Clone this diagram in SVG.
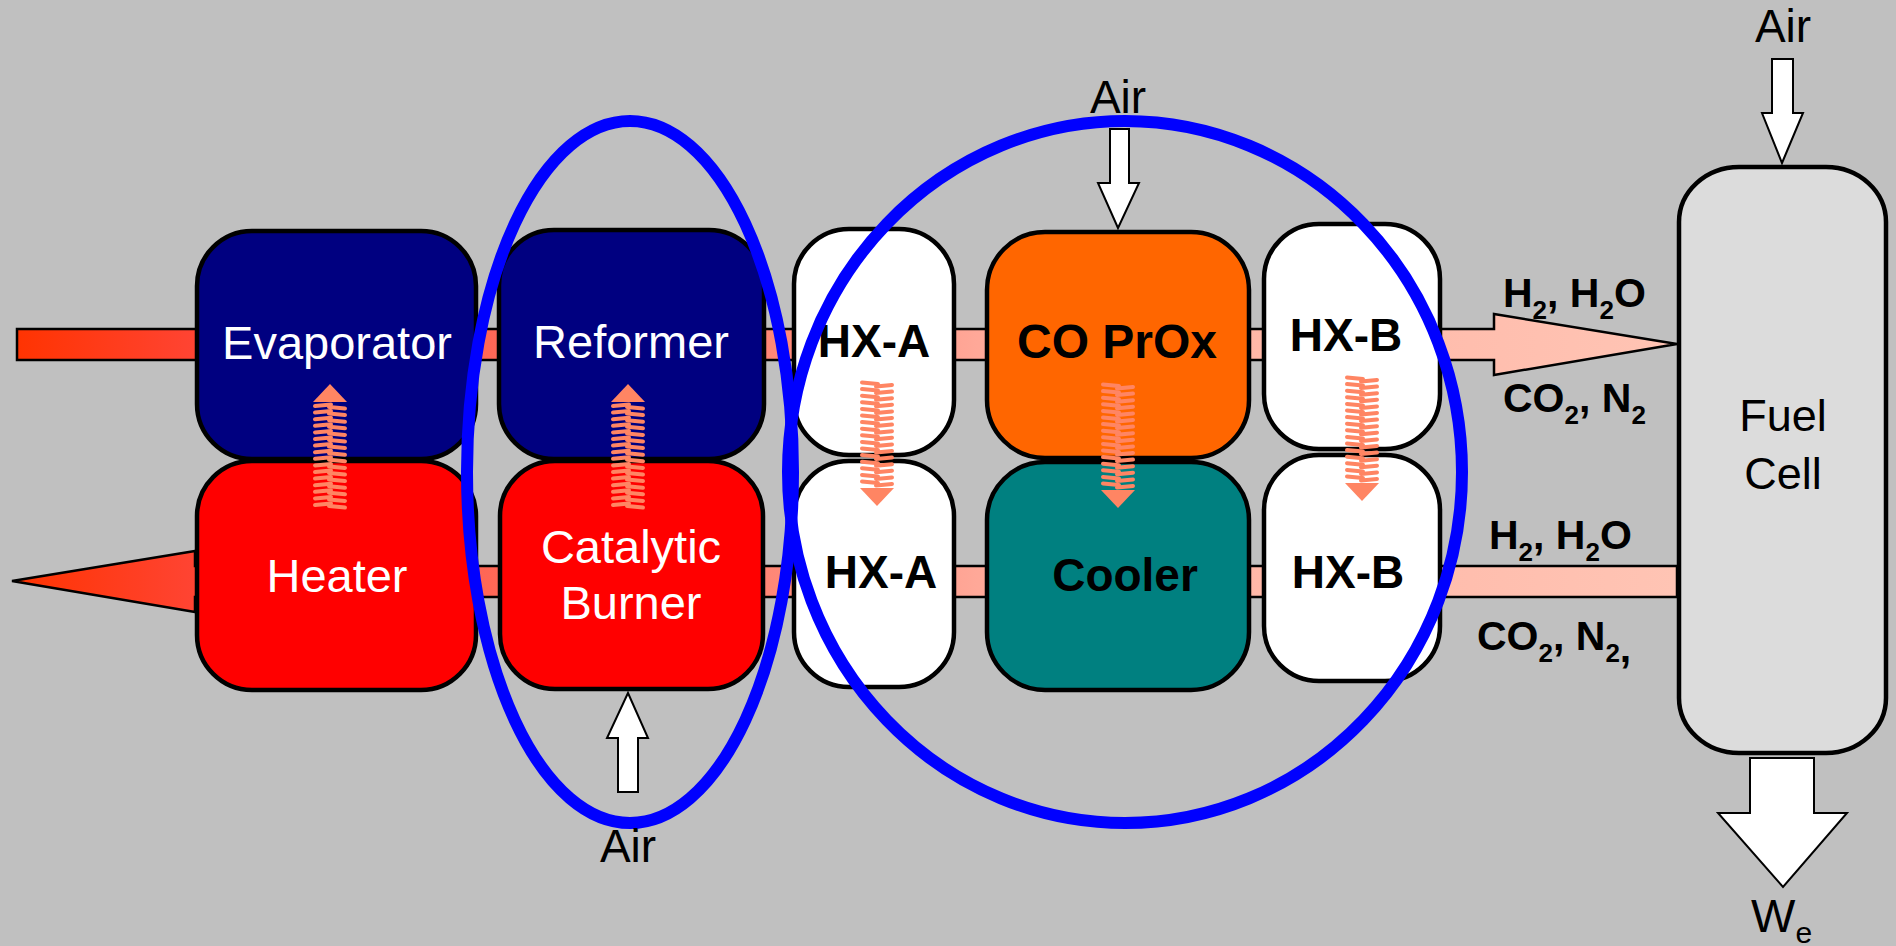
<svg xmlns="http://www.w3.org/2000/svg" width="1896" height="946" viewBox="0 0 1896 946">
<style>
.box{stroke:#000;stroke-width:4.5}
.wl{font-family:"Liberation Sans",Arial,sans-serif;font-size:47px;fill:#fff;text-anchor:middle}
.bl{font-family:"Liberation Sans",Arial,sans-serif;font-size:46px;font-weight:bold;fill:#000;text-anchor:middle}
.nl{font-family:"Liberation Sans",Arial,sans-serif;font-size:46px;fill:#000;text-anchor:middle}
.sl{font-family:"Liberation Sans",Arial,sans-serif;font-size:41px;font-weight:bold;fill:#000}
.air{fill:#fff;stroke:#000;stroke-width:2}
.stream{stroke:#000;stroke-width:2.5}
.ring{fill:none;stroke:#0000FF;stroke-width:12}
.coil{fill:none;stroke:#FF8563;stroke-width:4;stroke-linecap:round}
</style>
<defs>
<linearGradient id="flow" gradientUnits="userSpaceOnUse" x1="12" y1="0" x2="1677" y2="0">
<stop offset="0" stop-color="#FF3300"/>
<stop offset="0.11" stop-color="#FF4433"/>
<stop offset="0.28" stop-color="#FF6655"/>
<stop offset="0.46" stop-color="#FF8877"/>
<stop offset="0.58" stop-color="#FFA898"/>
<stop offset="0.75" stop-color="#FFB8A8"/>
<stop offset="1" stop-color="#FFC4B4"/>
</linearGradient>
<g id="spring">
<polygon points="0,0 17,18 -17,18" fill="#FF8563"/>
<path class="coil" d="M-15,22 l16,-1.5 m-16,8.1 l16,-1.5 m-16,8.1 l16,-1.5 m-16,8.1 l16,-1.5 m-16,8.1 l16,-1.5 m-16,8.1 l16,-1.5 m-16,8.1 l16,-1.5 m-16,8.1 l16,-1.5 m-16,8.1 l16,-1.5 m-16,8.1 l16,-1.5 m-16,8.1 l16,-1.5 m-16,8.1 l16,-1.5 m-16,8.1 l16,-1.5 m-16,8.1 l16,-1.5 m-16,8.1 l16,-1.5 m-16,8.1 l16,-1.5"/>
<path class="coil" d="M-1,23 l16,1.5 m-16,5.1 l16,1.5 m-16,5.1 l16,1.5 m-16,5.1 l16,1.5 m-16,5.1 l16,1.5 m-16,5.1 l16,1.5 m-16,5.1 l16,1.5 m-16,5.1 l16,1.5 m-16,5.1 l16,1.5 m-16,5.1 l16,1.5 m-16,5.1 l16,1.5 m-16,5.1 l16,1.5 m-16,5.1 l16,1.5 m-16,5.1 l16,1.5 m-16,5.1 l16,1.5 m-16,5.1 l16,1.5"/>
</g>
</defs>
<rect x="0" y="0" width="1896" height="946" fill="#C0C0C0"/>

<g id="connectors">
<path class="stream" fill="url(#flow)" d="M17,329 H1494 V314 L1677,344 L1494,375 V360 H17 Z"/>
<path class="stream" fill="url(#flow)" d="M12,581 L195,551 V566 H1677 V597 H195 V612 Z"/>
<path id="air-fc" class="air" d="M1772,59 H1793 V113 H1803 L1782,163 L1762,113 H1772 Z"/>
<path id="air-prox" class="air" d="M1110,129 H1129 V183 H1139 L1118,228 L1098,183 H1110 Z"/>
<path id="air-burner" class="air" d="M618,792 V738 H607 L628,693 L648,738 H638 V792 Z"/>
<path id="we-arrow" class="air" d="M1750,758 H1814 V813 H1847 L1783,887 L1718,813 H1750 Z"/>
</g>

<g id="evaporator"><rect class="box" x="197" y="231" width="279" height="228" rx="55" fill="#000080"/><text class="wl" x="337" y="359">Evaporator</text></g>
<g id="heater"><rect class="box" x="197" y="461" width="279" height="229" rx="55" fill="#FF0000"/><text class="wl" x="337" y="592">Heater</text></g>
<g id="reformer"><rect class="box" x="499" y="230" width="265" height="229" rx="55" fill="#000080"/><text class="wl" x="631" y="358">Reformer</text></g>
<g id="burner"><rect class="box" x="500" y="461" width="263" height="228" rx="55" fill="#FF0000"/><text class="wl" x="631" y="563">Catalytic</text><text class="wl" x="631" y="619">Burner</text></g>
<g id="hxa-top"><rect class="box" x="794" y="229" width="160" height="226" rx="55" fill="#FFFFFF"/><text class="bl" x="874" y="357">HX-A</text></g>
<g id="hxa-bottom"><rect class="box" x="794" y="461" width="160" height="226" rx="55" fill="#FFFFFF"/><text class="bl" x="881" y="588">HX-A</text></g>
<g id="coprox"><rect class="box" x="987" y="232" width="262" height="226" rx="58" fill="#FF6600"/><text class="bl" x="1117" y="358" style="font-size:48px">CO PrOx</text></g>
<g id="cooler"><rect class="box" x="987" y="462" width="262" height="228" rx="58" fill="#008080"/><text class="bl" x="1125" y="591">Cooler</text></g>
<g id="hxb-top"><rect class="box" x="1264" y="224" width="176" height="225" rx="55" fill="#FFFFFF"/><text class="bl" x="1346" y="351">HX-B</text></g>
<g id="hxb-bottom"><rect class="box" x="1264" y="455" width="176" height="226" rx="55" fill="#FFFFFF"/><text class="bl" x="1348" y="588">HX-B</text></g>
<g id="fuelcell"><rect class="box" x="1679" y="167" width="207" height="586" rx="60" ry="55" fill="#DCDCDC"/><text class="nl" x="1783" y="431" style="font-size:45px">Fuel</text><text class="nl" x="1783" y="489" style="font-size:45px">Cell</text></g>

<g id="heat-transfer">
<use href="#spring" transform="translate(330,384)"/>
<use href="#spring" transform="translate(628,384)"/>
<use href="#spring" transform="translate(877,506) rotate(180)"/>
<use href="#spring" transform="translate(1118,508) rotate(180)"/>
<use href="#spring" transform="translate(1362,501) rotate(180)"/>
</g>

<g id="groups">
<ellipse class="ring" cx="630" cy="472" rx="163" ry="351"/>
<ellipse class="ring" cx="1125" cy="472" rx="337" ry="351"/>
</g>

<g id="labels">
<text class="nl" x="1783" y="42">Air</text>
<text class="nl" x="1118" y="113">Air</text>
<text class="nl" x="628" y="862">Air</text>
<text class="sl" x="1503" y="307">H<tspan dy="12" font-size="26">2</tspan><tspan dy="-12">, H</tspan><tspan dy="12" font-size="26">2</tspan><tspan dy="-12">O</tspan></text>
<text class="sl" x="1503" y="412">CO<tspan dy="12" font-size="26">2</tspan><tspan dy="-12">, N</tspan><tspan dy="12" font-size="26">2</tspan></text>
<text class="sl" x="1489" y="549">H<tspan dy="12" font-size="26">2</tspan><tspan dy="-12">, H</tspan><tspan dy="12" font-size="26">2</tspan><tspan dy="-12">O</tspan></text>
<text class="sl" x="1477" y="650">CO<tspan dy="12" font-size="26">2</tspan><tspan dy="-12">, N</tspan><tspan dy="12" font-size="26">2</tspan><tspan>,</tspan></text>
<text class="nl" x="1751" y="932" style="text-anchor:start;font-size:47px">W<tspan dy="11" font-size="30">e</tspan></text>
</g>
</svg>
